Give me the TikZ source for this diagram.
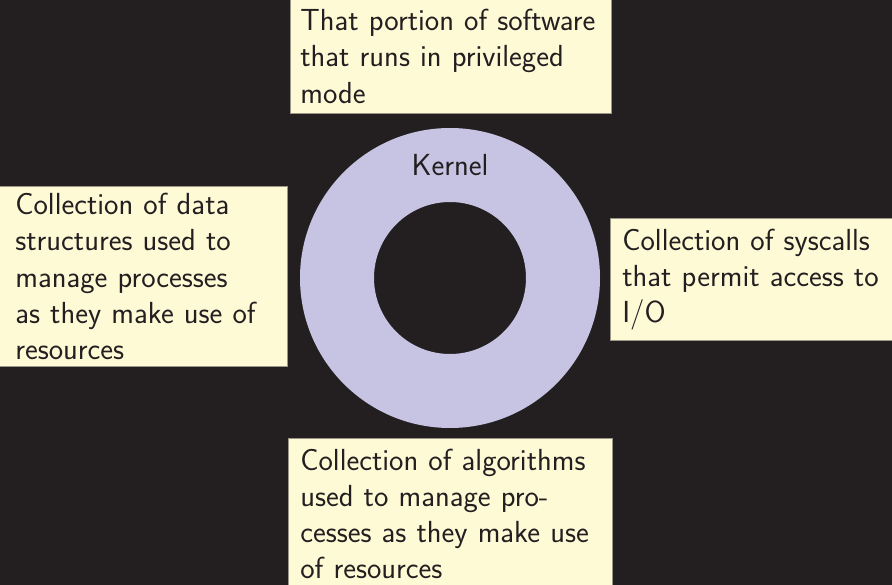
\documentclass[tikz,border=0pt]{standalone}
\usepackage{fontspec}
\definecolor{bg}{HTML}{231F20}
\definecolor{ringc}{HTML}{C6C4E2}
\definecolor{boxfill}{HTML}{FFFAD6}
\definecolor{boxline}{HTML}{9A978A}
\definecolor{ink}{HTML}{231F20}
\tikzset{
  txt/.style={font=\sffamily\fontsize{30.5}{36.2}\selectfont, text=ink},
  box/.style={txt, draw=boxline, fill=boxfill, line width=0.6pt, anchor=north west,
    align=left, inner xsep=12pt, inner ysep=10pt},
}
\begin{document}
\begin{tikzpicture}[x=1pt,y=-1pt]
\useasboundingbox (0,0) rectangle (892,585);
\clip (0,0) rectangle (892,585);
\fill[bg] (0,0) rectangle (892,585);
% ring
\fill[ringc, even odd rule] (450,278) circle[radius=150pt] (450,278) circle[radius=76pt];
\node[txt] (kernel) at (450,165) {Kernel};
% boxes
\node[box, inner xsep=10pt, inner ysep=10pt, text width=301pt] (topbox) at (290,-1)
  {That portion of software\\that runs in privileged\\mode};
\node[box, inner xsep=16pt, inner ysep=7pt, text width=256pt] (leftbox) at (-1,186)
  {Collection of data\\structures used to\\manage processes\\as they make use of\\resources};
\node[box, inner ysep=10.5pt, text width=262pt] (rightbox) at (610,218)
  {Collection of syscalls\\that permit access to\\I/O};
\node[box, inner ysep=10.5pt, text width=300pt] (bottombox) at (288,438)
  {Collection of algorithms\\used to manage pro-\\cesses as they make use\\of resources};
\end{tikzpicture}
\end{document}
